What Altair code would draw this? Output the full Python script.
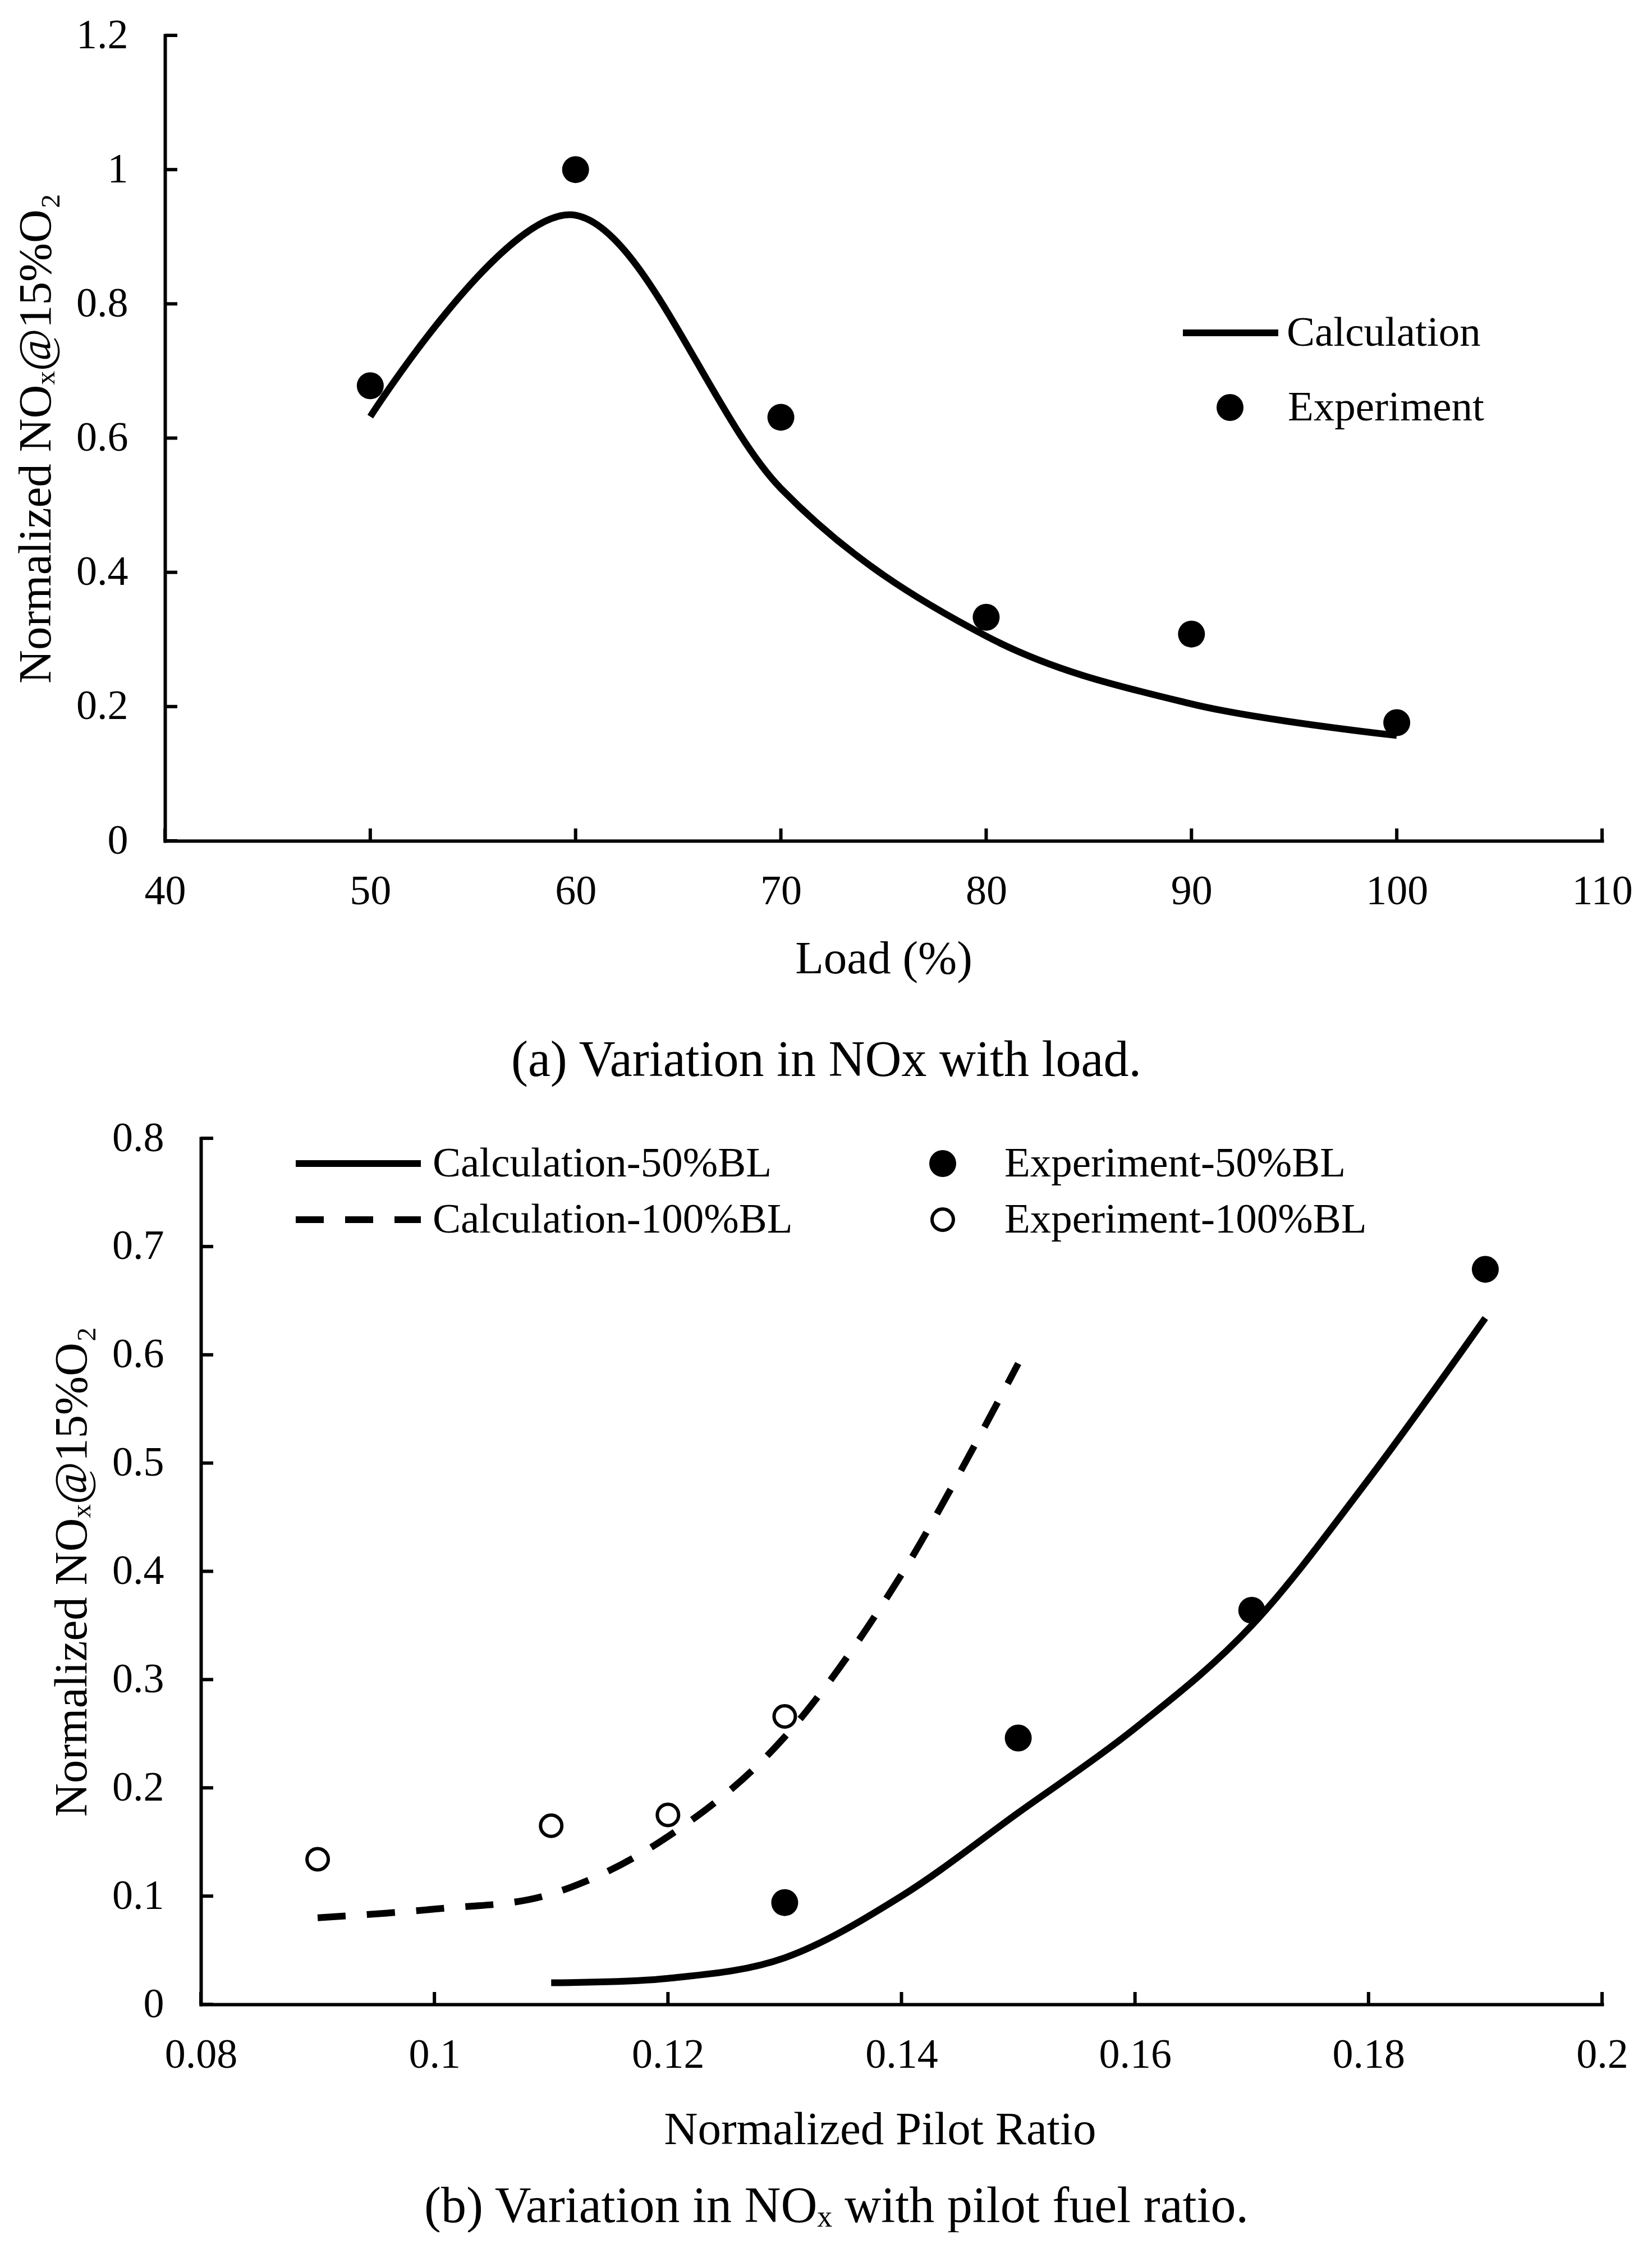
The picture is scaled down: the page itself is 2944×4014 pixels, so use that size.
import altair as alt
import pandas as pd

# (a) NOx against load
load = [50, 60, 70, 80, 90, 100]
calc_load = [0.632, 0.932, 0.525, 0.305, 0.204, 0.157]
exp_load = [0.678, 1.0, 0.631, 0.333, 0.308, 0.176]

# (b) NOx against pilot ratio
pilot_calc50 = [0.11, 0.12, 0.13, 0.14, 0.15, 0.16, 0.17, 0.18, 0.19]
calc50 = [0.020, 0.024, 0.043, 0.100, 0.177, 0.255, 0.350, 0.485, 0.634]
pilot_calc100 = [0.09, 0.10, 0.11, 0.12, 0.13, 0.14, 0.15]
calc100 = [0.080, 0.088, 0.102, 0.155, 0.247, 0.397, 0.592]
pilot_exp50 = [0.13, 0.15, 0.17, 0.19]
exp50 = [0.094, 0.246, 0.364, 0.679]
pilot_exp100 = [0.09, 0.11, 0.12, 0.13]
exp100 = [0.134, 0.165, 0.175, 0.266]

load_ticks = [40, 50, 60, 70, 80, 90, 100, 110]
nox_ticks_a = [0, 0.2, 0.4, 0.6, 0.8, 1.0, 1.2]
pilot_ticks = [0.08, 0.1, 0.12, 0.14, 0.16, 0.18, 0.2]
nox_ticks_b = [0, 0.1, 0.2, 0.3, 0.4, 0.5, 0.6, 0.7, 0.8]

FONT = "Liberation Serif"
YTITLE = "Normalized NOₓ@15%O₂"
TICK = 22


def legend_at(x, y, size, offset, sw, **kw):
    return alt.Legend(title=None, orient="none", legendX=x, legendY=y, padding=0,
                      symbolSize=size, symbolStrokeWidth=sw, symbolOpacity=1,
                      labelOffset=offset, labelFont=FONT, labelFontSize=75,
                      labelColor="black", labelLimit=3000, **kw)


#%% panel (a)
WA, HA = 2561, 1435
xa = alt.Scale(domain=[40, 110], nice=False)
ya = alt.Scale(domain=[0, 1.2], nice=False)
xax_a = alt.Axis(values=load_ticks, title="Load (%)", titleX=WA / 2, titleY=235)
yax_a = alt.Axis(values=nox_ticks_a, format=".1~f", title=YTITLE, titleX=-205, titleY=HA / 2)

calc_a = pd.DataFrame({"x": load, "y": calc_load, "s": "Calculation"})
exp_a = pd.DataFrame({"x": load, "y": exp_load, "s": "Experiment"})

line_a = alt.Chart(calc_a).mark_line(
    interpolate="cardinal", strokeWidth=12, strokeCap="butt", strokeJoin="round", color="black"
).encode(
    x=alt.X("x:Q", scale=xa, axis=xax_a),
    y=alt.Y("y:Q", scale=ya, axis=yax_a),
    color=alt.Color("s:N", scale=alt.Scale(domain=["Calculation"], range=["black"]),
                    legend=legend_at(1808, 439, 170 ** 2, 9, 12)),
)
pts_a = alt.Chart(exp_a).mark_point(filled=True, size=2304, opacity=1, color="black").encode(
    x=alt.X("x:Q", scale=xa, axis=xax_a),
    y=alt.Y("y:Q", scale=ya, axis=yax_a),
    shape=alt.Shape("s:N", scale=alt.Scale(domain=["Experiment"], range=["circle"]),
                    legend=legend_at(1860.5, 625.5, 2304, 65.5, 0, symbolFillColor="black")),
)
# inward tick marks
yt_a = alt.Chart(pd.DataFrame({"y": nox_ticks_a})).mark_rule(strokeWidth=6, color="black").encode(
    y=alt.Y("y:Q", scale=ya, axis=yax_a), x=alt.value(0), x2=alt.value(TICK))
xt_a = alt.Chart(pd.DataFrame({"x": load_ticks})).mark_rule(strokeWidth=6, color="black").encode(
    x=alt.X("x:Q", scale=xa, axis=xax_a), y=alt.value(HA), y2=alt.value(HA - TICK))

panel_a = alt.layer(yt_a, xt_a, line_a, pts_a).properties(
    width=WA, height=HA,
    title=alt.Title("(a) Variation in NOx with load.", orient="bottom", anchor="middle",
                    offset=96, dx=-102, font=FONT, fontSize=90, fontWeight="normal", color="black"),
)

#%% panel (b)
WB, HB = 2561, 1543
XB0 = 64
xb = alt.Scale(domain=[0.08, 0.2], range=[XB0, WB], nice=False)
yb = alt.Scale(domain=[0, 0.8], nice=False)
xax_b = alt.Axis(values=pilot_ticks, format=".2~f", title="Normalized Pilot Ratio", titleX=1274, titleY=248)
yax_b = alt.Axis(values=nox_ticks_b, format=".1~f", title=YTITLE, titleX=-205, titleY=HB / 2, offset=-XB0)

c50 = pd.DataFrame({"x": pilot_calc50, "y": calc50, "s": "Calculation-50%BL"})
c100 = pd.DataFrame({"x": pilot_calc100, "y": calc100, "s": "Calculation-100%BL"})
e50 = pd.DataFrame({"x": pilot_exp50, "y": exp50, "s": "Experiment-50%BL"})
e100 = pd.DataFrame({"x": pilot_exp100, "y": exp100, "s": "Experiment-100%BL"})

enc_b = dict(x=alt.X("x:Q", scale=xb, axis=xax_b), y=alt.Y("y:Q", scale=yb, axis=yax_b))

l50 = alt.Chart(c50).mark_line(
    interpolate="cardinal", strokeWidth=12, strokeCap="butt", strokeJoin="round", color="black"
).encode(
    color=alt.Color("s:N", scale=alt.Scale(domain=["Calculation-50%BL"], range=["black"]),
                    legend=legend_at(227, -72.5, 223 ** 2, 15, 12)),
    **enc_b,
)
l100 = alt.Chart(c100).mark_line(
    interpolate="cardinal", strokeWidth=12, strokeCap="butt", strokeJoin="round", color="black"
).encode(
    strokeDash=alt.StrokeDash("s:N", scale=alt.Scale(domain=["Calculation-100%BL"], range=[[50, 38]]),
                              legend=legend_at(227, 27.5, 223 ** 2, 15, 12, symbolStrokeColor="black")),
    **enc_b,
)
p50 = alt.Chart(e50).mark_point(filled=True, size=2304, opacity=1, color="black").encode(
    shape=alt.Shape("s:N", scale=alt.Scale(domain=["Experiment-50%BL"], range=["circle"]),
                    legend=legend_at(1348.5, 7.5, 2304, 72.5, 0, symbolFillColor="black")),
    **enc_b,
)
p100 = alt.Chart(e100).mark_point(filled=True, size=1444, opacity=1, stroke="black", strokeWidth=6).encode(
    fill=alt.Fill("s:N", scale=alt.Scale(domain=["Experiment-100%BL"], range=["white"]),
                  legend=legend_at(1348.5, 107.5, 1444, 72.5, 6, symbolStrokeColor="black")),
    **enc_b,
)
yt_b = alt.Chart(pd.DataFrame({"y": nox_ticks_b})).mark_rule(strokeWidth=6, color="black").encode(
    y=alt.Y("y:Q", scale=yb, axis=yax_b), x=alt.value(XB0), x2=alt.value(XB0 + TICK))
xt_b = alt.Chart(pd.DataFrame({"x": pilot_ticks})).mark_rule(strokeWidth=6, color="black").encode(
    x=alt.X("x:Q", scale=xb, axis=xax_b), y=alt.value(HB), y2=alt.value(HB - TICK))

panel_b = alt.layer(yt_b, xt_b, l100, l50, p100, p50).properties(
    width=WB, height=HB,
    title=alt.Title("(b) Variation in NOₓ with pilot fuel ratio.", orient="bottom", anchor="middle",
                    offset=52, dx=-84, font=FONT, fontSize=90, fontWeight="normal", color="black"),
)

chart = alt.vconcat(panel_a, panel_b, spacing=20).resolve_scale(
    color="independent", shape="independent", strokeDash="independent", fill="independent"
).resolve_legend(
    color="independent", shape="independent", strokeDash="independent", fill="independent"
).properties(
    padding={"left": 15, "top": 18, "right": 0, "bottom": 0}
).configure_axis(
    labelFont=FONT, labelFontSize=74, labelColor="black",
    titleFont=FONT, titleFontSize=83, titleFontWeight="normal", titleColor="black",
    domainColor="black", domainWidth=6, domainCap="square",
    ticks=False, tickSize=0, grid=False, labelFlush=False, labelOverlap=False,
).configure_axisX(
    labelPadding=54, titleAlign="center", titleBaseline="alphabetic",
).configure_axisY(
    labelPadding=66, titleAngle=270, titleAlign="center", titleBaseline="alphabetic",
).configure_view(strokeWidth=0)

chart.save("out.html", embed_options={"renderer": "svg", "actions": False})
